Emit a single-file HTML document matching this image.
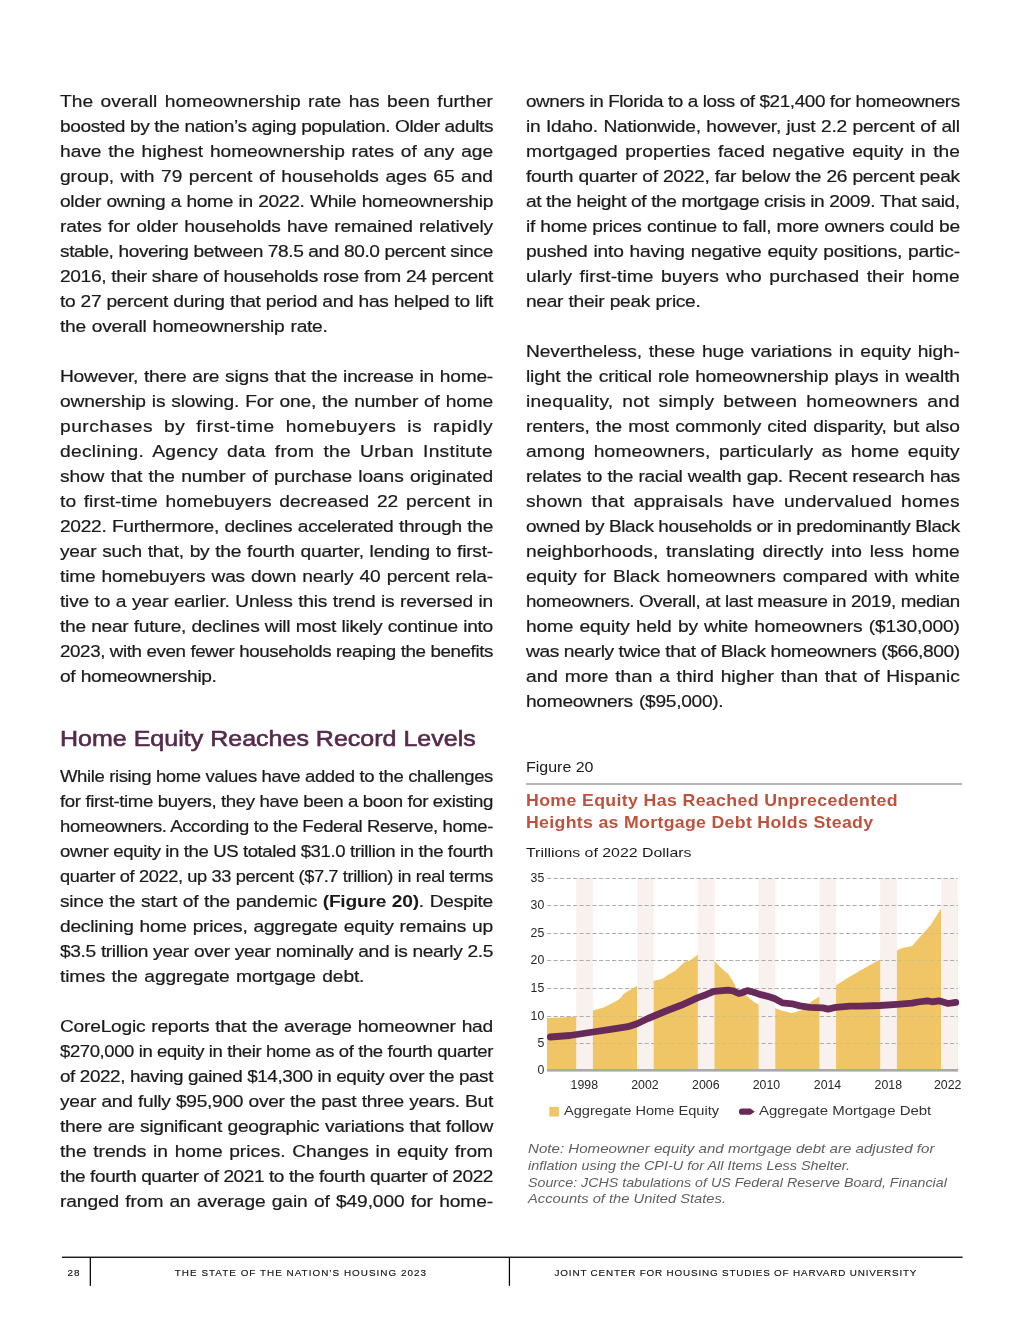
<!DOCTYPE html>
<html lang="en"><head><meta charset="utf-8"><title>The State of the Nation’s Housing 2023 – page 28</title>
<style>
html,body{margin:0;padding:0;background:#fff;}
body{width:1020px;height:1320px;position:relative;overflow:hidden;font-family:"Liberation Sans",sans-serif;color:#1c191a;}
#pg{position:absolute;left:0;top:0;width:1020px;height:1320px;will-change:transform;}
.l{display:block;position:absolute;height:25px;line-height:25px;font-size:16.3px;white-space:nowrap;transform:scaleX(1.178);transform-origin:0 0;-webkit-text-stroke:0.2px #1c191a;}
.l b{font-weight:700;-webkit-text-stroke:0;}
.a{position:absolute;white-space:nowrap;transform-origin:0 0;margin:0;font-weight:400;}
p,h2,figure,figcaption,section,footer{margin:0;padding:0;}
svg text{font-family:"Liberation Sans",sans-serif;}
</style></head><body><main id="pg">
<section class="col">
<p>
<span class="l" style="left:59.7px;top:89.4px;letter-spacing:0.028px;word-spacing:1.765px;">The overall homeownership rate has been further</span>
<span class="l" style="left:59.7px;top:114.4px;letter-spacing:-0.340px;word-spacing:-0.000px;transform:scaleX(1.1714);">boosted by the nation’s aging population. Older adults</span>
<span class="l" style="left:59.7px;top:139.4px;letter-spacing:-0.032px;word-spacing:1.266px;">have the highest homeownership rates of any age</span>
<span class="l" style="left:59.7px;top:164.4px;letter-spacing:-0.047px;word-spacing:1.079px;">group, with 79 percent of households ages 65 and</span>
<span class="l" style="left:59.7px;top:189.4px;letter-spacing:-0.268px;word-spacing:0.303px;">older owning a home in 2022. While homeownership</span>
<span class="l" style="left:59.7px;top:214.4px;letter-spacing:-0.150px;word-spacing:0.992px;">rates for older households have remained relatively</span>
<span class="l" style="left:59.7px;top:239.4px;letter-spacing:-0.340px;word-spacing:-0.000px;transform:scaleX(1.1740);">stable, hovering between 78.5 and 80.0 percent since</span>
<span class="l" style="left:59.7px;top:264.4px;letter-spacing:-0.311px;word-spacing:0.114px;">2016, their share of households rose from 24 percent</span>
<span class="l" style="left:59.7px;top:289.4px;letter-spacing:-0.281px;word-spacing:0.197px;">to 27 percent during that period and has helped to lift</span>
<span class="l" style="left:59.7px;top:314.4px;letter-spacing:-0.220px;word-spacing:0.762px;">the overall homeownership rate.</span>
</p>
<p>
<span class="l" style="left:59.7px;top:364.4px;letter-spacing:-0.193px;word-spacing:0.573px;">However, there are signs that the increase in home-</span>
<span class="l" style="left:59.7px;top:389.4px;letter-spacing:-0.150px;word-spacing:0.712px;">ownership is slowing. For one, the number of home</span>
<span class="l" style="left:59.7px;top:414.4px;letter-spacing:0.435px;word-spacing:4.272px;">purchases by first-time homebuyers is rapidly</span>
<span class="l" style="left:59.7px;top:439.4px;letter-spacing:0.266px;word-spacing:2.911px;">declining. Agency data from the Urban Institute</span>
<span class="l" style="left:59.7px;top:464.4px;letter-spacing:-0.105px;word-spacing:1.008px;">show that the number of purchase loans originated</span>
<span class="l" style="left:59.7px;top:489.4px;letter-spacing:0.048px;word-spacing:1.903px;">to first-time homebuyers decreased 22 percent in</span>
<span class="l" style="left:59.7px;top:514.4px;letter-spacing:-0.271px;word-spacing:0.433px;">2022. Furthermore, declines accelerated through the</span>
<span class="l" style="left:59.7px;top:539.4px;letter-spacing:-0.188px;word-spacing:0.580px;">year such that, by the fourth quarter, lending to first-</span>
<span class="l" style="left:59.7px;top:564.4px;letter-spacing:-0.151px;word-spacing:0.796px;">time homebuyers was down nearly 40 percent rela-</span>
<span class="l" style="left:59.7px;top:589.4px;letter-spacing:-0.197px;word-spacing:0.489px;">tive to a year earlier. Unless this trend is reversed in</span>
<span class="l" style="left:59.7px;top:614.4px;letter-spacing:-0.258px;word-spacing:0.353px;">the near future, declines will most likely continue into</span>
<span class="l" style="left:59.7px;top:639.4px;letter-spacing:-0.340px;word-spacing:0.000px;transform:scaleX(1.1525);">2023, with even fewer households reaping the benefits</span>
<span class="l" style="left:59.7px;top:664.4px;letter-spacing:-0.298px;word-spacing:0.433px;">of homeownership.</span>
</p>
<h2 class="a" style="left:59.5px;top:722.9px;font-size:22.6px;line-height:31.6px;color:#552a4b;letter-spacing:0.000px;-webkit-text-stroke:0.6px #552a4b;transform:scaleX(1.1073);">Home Equity Reaches Record Levels</h2>
<p>
<span class="l" style="left:59.7px;top:764.3px;letter-spacing:-0.340px;word-spacing:0.000px;transform:scaleX(1.1388);">While rising home values have added to the challenges</span>
<span class="l" style="left:59.7px;top:789.3px;letter-spacing:-0.340px;word-spacing:0.000px;transform:scaleX(1.1458);">for first-time buyers, they have been a boon for existing</span>
<span class="l" style="left:59.7px;top:814.3px;letter-spacing:-0.340px;word-spacing:-0.000px;transform:scaleX(1.1342);">homeowners. According to the Federal Reserve, home-</span>
<span class="l" style="left:59.7px;top:839.3px;letter-spacing:-0.340px;word-spacing:0.000px;transform:scaleX(1.1395);">owner equity in the US totaled $31.0 trillion in the fourth</span>
<span class="l" style="left:59.7px;top:864.3px;letter-spacing:-0.340px;word-spacing:-0.000px;transform:scaleX(1.1193);">quarter of 2022, up 33 percent ($7.7 trillion) in real terms</span>
<span class="l" style="left:59.7px;top:889.3px;letter-spacing:-0.203px;word-spacing:0.546px;">since the start of the pandemic <b>(Figure 20)</b>. Despite</span>
<span class="l" style="left:59.7px;top:914.3px;letter-spacing:-0.195px;word-spacing:0.740px;">declining home prices, aggregate equity remains up</span>
<span class="l" style="left:59.7px;top:939.3px;letter-spacing:-0.318px;word-spacing:0.084px;">$3.5 trillion year over year nominally and is nearly 2.5</span>
<span class="l" style="left:59.7px;top:964.3px;letter-spacing:-0.123px;word-spacing:1.133px;">times the aggregate mortgage debt.</span>
</p>
<p>
<span class="l" style="left:59.7px;top:1014.3px;letter-spacing:-0.198px;word-spacing:0.697px;">CoreLogic reports that the average homeowner had</span>
<span class="l" style="left:59.7px;top:1039.3px;letter-spacing:-0.340px;word-spacing:0.000px;transform:scaleX(1.1347);">$270,000 in equity in their home as of the fourth quarter</span>
<span class="l" style="left:59.7px;top:1064.3px;letter-spacing:-0.340px;word-spacing:-0.000px;transform:scaleX(1.1590);">of 2022, having gained $14,300 in equity over the past</span>
<span class="l" style="left:59.7px;top:1089.3px;letter-spacing:-0.255px;word-spacing:0.307px;">year and fully $95,900 over the past three years. But</span>
<span class="l" style="left:59.7px;top:1114.3px;letter-spacing:-0.260px;word-spacing:0.447px;">there are significant geographic variations that follow</span>
<span class="l" style="left:59.7px;top:1139.3px;letter-spacing:-0.024px;word-spacing:1.185px;">the trends in home prices. Changes in equity from</span>
<span class="l" style="left:59.7px;top:1164.3px;letter-spacing:-0.340px;word-spacing:0.000px;transform:scaleX(1.1668);">the fourth quarter of 2021 to the fourth quarter of 2022</span>
<span class="l" style="left:59.7px;top:1189.3px;letter-spacing:-0.093px;word-spacing:0.909px;">ranged from an average gain of $49,000 for home-</span>
</p>
</section>
<section class="col">
<p>
<span class="l" style="left:525.7px;top:89.4px;letter-spacing:-0.340px;word-spacing:-0.000px;transform:scaleX(1.1603);">owners in Florida to a loss of $21,400 for homeowners</span>
<span class="l" style="left:525.7px;top:114.4px;letter-spacing:-0.224px;word-spacing:0.480px;">in Idaho. Nationwide, however, just 2.2 percent of all</span>
<span class="l" style="left:525.7px;top:139.4px;letter-spacing:0.007px;word-spacing:1.735px;">mortgaged properties faced negative equity in the</span>
<span class="l" style="left:525.7px;top:164.4px;letter-spacing:-0.268px;word-spacing:0.258px;">fourth quarter of 2022, far below the 26 percent peak</span>
<span class="l" style="left:525.7px;top:189.4px;letter-spacing:-0.340px;word-spacing:-0.000px;transform:scaleX(1.1758);">at the height of the mortgage crisis in 2009. That said,</span>
<span class="l" style="left:525.7px;top:214.4px;letter-spacing:-0.268px;word-spacing:0.261px;">if home prices continue to fall, more owners could be</span>
<span class="l" style="left:525.7px;top:239.4px;letter-spacing:-0.194px;word-spacing:0.789px;">pushed into having negative equity positions, partic-</span>
<span class="l" style="left:525.7px;top:264.4px;letter-spacing:0.031px;word-spacing:1.855px;">ularly first-time buyers who purchased their home</span>
<span class="l" style="left:525.7px;top:289.4px;letter-spacing:-0.265px;word-spacing:0.337px;">near their peak price.</span>
</p>
<p>
<span class="l" style="left:525.7px;top:339.4px;letter-spacing:-0.086px;word-spacing:1.321px;">Nevertheless, these huge variations in equity high-</span>
<span class="l" style="left:525.7px;top:364.4px;letter-spacing:-0.151px;word-spacing:0.876px;">light the critical role homeownership plays in wealth</span>
<span class="l" style="left:525.7px;top:389.4px;letter-spacing:0.185px;word-spacing:2.898px;">inequality, not simply between homeowners and</span>
<span class="l" style="left:525.7px;top:414.4px;letter-spacing:-0.148px;word-spacing:0.876px;">renters, the most commonly cited disparity, but also</span>
<span class="l" style="left:525.7px;top:439.4px;letter-spacing:0.119px;word-spacing:2.532px;">among homeowners, particularly as home equity</span>
<span class="l" style="left:525.7px;top:464.4px;letter-spacing:-0.268px;word-spacing:0.293px;">relates to the racial wealth gap. Recent research has</span>
<span class="l" style="left:525.7px;top:489.4px;letter-spacing:0.201px;word-spacing:2.916px;">shown that appraisals have undervalued homes</span>
<span class="l" style="left:525.7px;top:514.4px;letter-spacing:-0.340px;word-spacing:0.000px;transform:scaleX(1.1667);">owned by Black households or in predominantly Black</span>
<span class="l" style="left:525.7px;top:539.4px;letter-spacing:0.004px;word-spacing:2.109px;">neighborhoods, translating directly into less home</span>
<span class="l" style="left:525.7px;top:564.4px;letter-spacing:-0.047px;word-spacing:1.409px;">equity for Black homeowners compared with white</span>
<span class="l" style="left:525.7px;top:589.4px;letter-spacing:-0.340px;word-spacing:-0.000px;transform:scaleX(1.1510);">homeowners. Overall, at last measure in 2019, median</span>
<span class="l" style="left:525.7px;top:614.4px;letter-spacing:-0.143px;word-spacing:0.948px;">home equity held by white homeowners ($130,000)</span>
<span class="l" style="left:525.7px;top:639.4px;letter-spacing:-0.339px;word-spacing:0.004px;">was nearly twice that of Black homeowners ($66,800)</span>
<span class="l" style="left:525.7px;top:664.4px;letter-spacing:0.004px;word-spacing:1.171px;">and more than a third higher than that of Hispanic</span>
<span class="l" style="left:525.7px;top:689.4px;letter-spacing:-0.259px;word-spacing:1.042px;">homeowners ($95,000).</span>
</p>
<figure>
<figcaption>
<div class="a" style="left:525.6px;top:757.2px;font-size:14.3px;line-height:20.0px;color:#1c191a;letter-spacing:0.000px;transform:scaleX(1.1174);">Figure 20</div>
<div class="a" style="left:526.0px;top:790.2px;font-size:15.7px;line-height:22.0px;color:#bd523d;letter-spacing:0.319px;font-weight:700;transform:scaleX(1.1300);">Home Equity Has Reached Unprecedented</div>
<div class="a" style="left:526.0px;top:812.1px;font-size:15.7px;line-height:22.0px;color:#bd523d;letter-spacing:0.275px;font-weight:700;transform:scaleX(1.1300);">Heights as Mortgage Debt Holds Steady</div>
<div class="a" style="left:526px;top:843.1px;font-size:13.6px;line-height:19.0px;color:#1c191a;letter-spacing:0.000px;transform:scaleX(1.1692);">Trillions of 2022 Dollars</div>
</figcaption>
<svg width="1020" height="1320" viewBox="0 0 1020 1320" style="position:absolute;left:0;top:0">
<rect x="526" y="783" width="436.2" height="2" fill="#b8b8b8"/>
<polygon points="547.0,1017.9 560.0,1017.6 576.0,1016.5 584.0,1014.0 593.0,1010.4 603.5,1007.6 610.6,1004.1 617.6,1000.2 621.2,997.6 623.5,994.1 627.0,991.8 636.7,986.1 645.0,983.5 654.0,980.8 662.4,978.8 668.2,974.7 675.3,970.8 684.7,961.8 690.0,960.6 697.6,954.7 706.0,952.0 714.0,960.2 720.0,967.0 728.2,974.1 733.0,981.2 737.0,989.4 741.0,993.0 746.0,995.3 753.0,1001.2 758.6,1004.5 767.0,1006.5 775.0,1008.0 781.2,1010.6 791.8,1012.9 801.0,1010.6 807.0,1005.9 811.8,1001.2 818.8,997.0 827.0,991.0 836.2,985.3 848.2,977.6 860.0,970.8 880.0,959.4 888.0,955.0 897.0,950.6 901.5,948.2 912.0,945.9 922.6,934.1 930.9,924.7 941.2,908.2 957.4,900.0 957.4,1070.3 547,1070.3" fill="#f0c566"/>
<defs><clipPath id="na"><path clip-rule="evenodd" d="M540,870H965V1075H540Z M547.0,1017.9 L560.0,1017.6 L576.0,1016.5 L584.0,1014.0 L593.0,1010.4 L603.5,1007.6 L610.6,1004.1 L617.6,1000.2 L621.2,997.6 L623.5,994.1 L627.0,991.8 L636.7,986.1 L645.0,983.5 L654.0,980.8 L662.4,978.8 L668.2,974.7 L675.3,970.8 L684.7,961.8 L690.0,960.6 L697.6,954.7 L706.0,952.0 L714.0,960.2 L720.0,967.0 L728.2,974.1 L733.0,981.2 L737.0,989.4 L741.0,993.0 L746.0,995.3 L753.0,1001.2 L758.6,1004.5 L767.0,1006.5 L775.0,1008.0 L781.2,1010.6 L791.8,1012.9 L801.0,1010.6 L807.0,1005.9 L811.8,1001.2 L818.8,997.0 L827.0,991.0 L836.2,985.3 L848.2,977.6 L860.0,970.8 L880.0,959.4 L888.0,955.0 L897.0,950.6 L901.5,948.2 L912.0,945.9 L922.6,934.1 L930.9,924.7 L941.2,908.2 L957.4,900.0 L957.4,1070.3 L547,1070.3Z"/></clipPath>
<clipPath id="st"><rect x="576.2" y="870" width="16.7" height="205"/><rect x="637.0" y="870" width="16.7" height="205"/><rect x="697.8" y="870" width="16.7" height="205"/><rect x="758.6" y="870" width="16.7" height="205"/><rect x="819.4" y="870" width="16.7" height="205"/><rect x="880.2" y="870" width="16.7" height="205"/><rect x="941.0" y="870" width="16.7" height="205"/></clipPath></defs>
<g stroke="#adadad" stroke-width="1" stroke-dasharray="4.2 2.3" opacity="0.3"><line x1="547" x2="958" y1="1043.5" y2="1043.5"/><line x1="547" x2="958" y1="1016.5" y2="1016.5"/><line x1="547" x2="958" y1="988.5" y2="988.5"/><line x1="547" x2="958" y1="960.5" y2="960.5"/><line x1="547" x2="958" y1="933.5" y2="933.5"/><line x1="547" x2="958" y1="905.5" y2="905.5"/><line x1="547" x2="958" y1="878.5" y2="878.5"/></g>
<g stroke="#adadad" stroke-width="1" stroke-dasharray="4.2 2.3" clip-path="url(#na)"><line x1="547" x2="958" y1="1043.5" y2="1043.5"/><line x1="547" x2="958" y1="1016.5" y2="1016.5"/><line x1="547" x2="958" y1="988.5" y2="988.5"/><line x1="547" x2="958" y1="960.5" y2="960.5"/><line x1="547" x2="958" y1="933.5" y2="933.5"/><line x1="547" x2="958" y1="905.5" y2="905.5"/><line x1="547" x2="958" y1="878.5" y2="878.5"/></g>
<rect x="576.2" y="878.0" width="16.7" height="192.3" fill="#f9f1ee"/>
<rect x="637.0" y="878.0" width="16.7" height="192.3" fill="#f9f1ee"/>
<rect x="697.8" y="878.0" width="16.7" height="192.3" fill="#f9f1ee"/>
<rect x="758.6" y="878.0" width="16.7" height="192.3" fill="#f9f1ee"/>
<rect x="819.4" y="878.0" width="16.7" height="192.3" fill="#f9f1ee"/>
<rect x="880.2" y="878.0" width="16.7" height="192.3" fill="#f9f1ee"/>
<rect x="941.0" y="878.0" width="16.7" height="192.3" fill="#f9f1ee"/>
<g stroke="#adadad" stroke-width="1" stroke-dasharray="4.2 2.3" clip-path="url(#st)"><line x1="547" x2="958" y1="1043.5" y2="1043.5"/><line x1="547" x2="958" y1="1016.5" y2="1016.5"/><line x1="547" x2="958" y1="988.5" y2="988.5"/><line x1="547" x2="958" y1="960.5" y2="960.5"/><line x1="547" x2="958" y1="933.5" y2="933.5"/><line x1="547" x2="958" y1="905.5" y2="905.5"/><line x1="547" x2="958" y1="878.5" y2="878.5"/></g>
<rect x="547" y="1069" width="411.2" height="2.6" fill="#a9a9a9"/>
<polyline points="550.3,1037.0 570.0,1035.5 593.0,1032.0 610.6,1029.4 628.0,1026.7 637.0,1023.8 648.0,1018.5 654.0,1016.0 660.0,1013.5 666.0,1011.0 681.0,1005.3 698.0,997.6 706.0,994.7 714.0,991.4 720.0,990.8 728.0,990.2 733.0,990.8 738.8,993.5 742.4,992.6 747.3,990.6 753.0,992.0 759.0,994.1 770.0,997.0 775.0,998.8 782.4,1002.9 792.0,1003.8 800.0,1005.9 810.0,1007.3 823.0,1007.9 828.0,1009.1 836.0,1007.3 850.0,1006.1 860.0,1006.1 880.0,1005.5 897.0,1004.4 912.0,1003.2 918.0,1002.0 927.4,1000.8 932.0,1001.8 939.0,1000.8 948.0,1003.5 955.8,1002.4" fill="none" stroke="#672a59" stroke-width="6.8" stroke-linecap="round" stroke-linejoin="round"/>
<text x="544.3" y="1074" font-size="12.3" fill="#262626" text-anchor="end">0</text>
<text x="544.3" y="1047" font-size="12.3" fill="#262626" text-anchor="end">5</text>
<text x="544.3" y="1020" font-size="12.3" fill="#262626" text-anchor="end">10</text>
<text x="544.3" y="992" font-size="12.3" fill="#262626" text-anchor="end">15</text>
<text x="544.3" y="964" font-size="12.3" fill="#262626" text-anchor="end">20</text>
<text x="544.3" y="937" font-size="12.3" fill="#262626" text-anchor="end">25</text>
<text x="544.3" y="909" font-size="12.3" fill="#262626" text-anchor="end">30</text>
<text x="544.3" y="882" font-size="12.3" fill="#262626" text-anchor="end">35</text>
<text x="584.3" y="1089" font-size="12.3" fill="#262626" text-anchor="middle">1998</text>
<text x="644.9" y="1089" font-size="12.3" fill="#262626" text-anchor="middle">2002</text>
<text x="705.8" y="1089" font-size="12.3" fill="#262626" text-anchor="middle">2006</text>
<text x="766.4" y="1089" font-size="12.3" fill="#262626" text-anchor="middle">2010</text>
<text x="827.5" y="1089" font-size="12.3" fill="#262626" text-anchor="middle">2014</text>
<text x="888.3" y="1089" font-size="12.3" fill="#262626" text-anchor="middle">2018</text>
<text x="947.7" y="1089" font-size="12.3" fill="#262626" text-anchor="middle">2022</text>
<rect x="549.3" y="1106.9" width="9.6" height="9.6" fill="#f0c566"/>
<path d="M742 1108.6 H750.5 L754.8 1111.7 L750.5 1114.8 H742 A3.1 3.1 0 0 1 742 1108.6Z" fill="#672a59"/>
</svg>
<div class="legend">
<div class="a" style="left:564px;top:1102.4px;font-size:13.5px;line-height:18.9px;color:#333333;letter-spacing:0.000px;transform:scaleX(1.0813);">Aggregate Home Equity</div>
<div class="a" style="left:758.5px;top:1102.4px;font-size:13.5px;line-height:18.9px;color:#333333;letter-spacing:0.000px;transform:scaleX(1.1090);">Aggregate Mortgage Debt</div>
</div>
<div class="notes">
<div class="a" style="left:527.6px;top:1139.8px;font-size:13.2px;line-height:18.5px;color:#5f6062;letter-spacing:0.000px;font-style:italic;transform:scaleX(1.1457);">Note: Homeowner equity and mortgage debt are adjusted for</div>
<div class="a" style="left:527.6px;top:1157.2px;font-size:13.2px;line-height:18.5px;color:#5f6062;letter-spacing:0.000px;font-style:italic;transform:scaleX(1.0910);">inflation using the CPI-U for All Items Less Shelter.</div>
<div class="a" style="left:527.6px;top:1173.6px;font-size:13.2px;line-height:18.5px;color:#5f6062;letter-spacing:0.000px;font-style:italic;transform:scaleX(1.0801);">Source: JCHS tabulations of US Federal Reserve Board, Financial</div>
<div class="a" style="left:527.6px;top:1190.0px;font-size:13.2px;line-height:18.5px;color:#5f6062;letter-spacing:0.000px;font-style:italic;transform:scaleX(1.1161);">Accounts of the United States.</div>
</div>
</figure>
</section>
<footer>
<svg width="1020" height="40" viewBox="0 1250 1020 40" style="position:absolute;left:0;top:1250px">
<rect x="62" y="1256.6" width="900.6" height="1.3" fill="#000"/>
<rect x="89.7" y="1257" width="1.25" height="28.8" fill="#000"/>
<rect x="508.8" y="1257" width="1.25" height="28.8" fill="#000"/>
</svg>
<div class="a" style="left:67.4px;top:1266.1px;font-size:9.9px;line-height:13.9px;color:#111;letter-spacing:1.108px;-webkit-text-stroke:0.15px #111;">28</div>
<div class="a" style="left:174.8px;top:1266.1px;font-size:9.9px;line-height:13.9px;color:#111;letter-spacing:1.025px;-webkit-text-stroke:0.15px #111;">THE STATE OF THE NATION’S HOUSING 2023</div>
<div class="a" style="left:554.6px;top:1266.1px;font-size:9.9px;line-height:13.9px;color:#111;letter-spacing:0.822px;-webkit-text-stroke:0.15px #111;">JOINT CENTER FOR HOUSING STUDIES OF HARVARD UNIVERSITY</div>
</footer>
</main></body></html>
